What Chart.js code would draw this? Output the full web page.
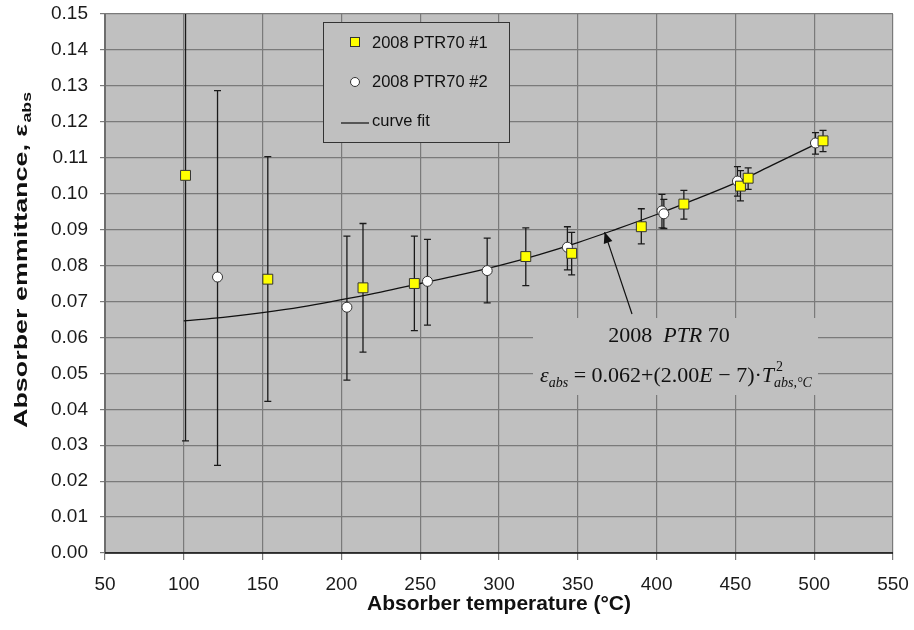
<!DOCTYPE html>
<html>
<head>
<meta charset="utf-8">
<script src="https://cdn.jsdelivr.net/npm/chart.js@4/dist/chart.umd.min.js"></script>
<style>
html,body{margin:0;padding:0;background:#fff;}
#wrap{width:914px;height:630px;}
</style>
</head>
<body>
<div id="wrap"><canvas id="c" width="914" height="630"></canvas></div>
<script>
// ---- Data ----
const xTicks = [50,100,150,200,250,300,350,400,450,500,550];
const yTicks = [0,0.01,0.02,0.03,0.04,0.05,0.06,0.07,0.08,0.09,0.10,0.11,0.12,0.13,0.14,0.15];

const s1Label = "2008 PTR70 #1";
const s1Temp = [101.1, 153.3, 213.7, 246.3, 317.0, 346.1, 390.3, 417.3, 453.2, 458.1, 505.6];
const s1Emit = [0.1051, 0.0762, 0.0738, 0.0750, 0.0825, 0.0834, 0.0908, 0.0971, 0.1021, 0.1043, 0.1147];
const s1Low  = [0.0312, 0.0422, 0.0559, 0.0619, 0.0744, 0.0774, 0.0860, 0.0929, 0.0980, 0.1012, 0.1117];
const s1High = [0.1790, 0.1103, 0.0917, 0.0882, 0.0905, 0.0892, 0.0958, 0.1009, 0.1064, 0.1072, 0.1176];

const s2Label = "2008 PTR70 #2";
const s2Temp = [121.4, 203.5, 254.6, 292.5, 343.4, 403.4, 404.6, 451.3, 500.8];
const s2Emit = [0.0768, 0.0684, 0.0756, 0.0786, 0.0851, 0.0952, 0.0944, 0.1035, 0.1141];
const s2Low  = [0.0244, 0.0481, 0.0634, 0.0696, 0.0788, 0.0905, 0.0903, 0.0993, 0.1110];
const s2High = [0.1287, 0.0882, 0.0873, 0.0876, 0.0908, 0.0998, 0.0984, 0.1075, 0.1170];

const fitLabel = "curve fit";
const fitTemp = [100, 125, 150, 175, 200, 225, 250, 275, 300, 325, 350, 375, 400, 425, 450, 475, 502];
const fitEmit = [0.0646, 0.0656, 0.0669, 0.0685, 0.0705, 0.0726, 0.0750, 0.0774, 0.0800, 0.0830, 0.0864, 0.0902, 0.0942, 0.0985, 0.1030, 0.1083, 0.1140];

const xTitle = "Absorber temperature (°C)";
const yTitleMain = "Absorber emmittance, ε";
const yTitleSub = "abs";
const annoLine1 = ["2008  ", "PTR", " 70"];
const annoPointT = 367;
const annoPointE = 0.0893;

// ---- Helpers ----
const toXY = (xs, ys) => xs.map((x, i) => ({x: x, y: ys[i]}));
const PLOT_BG = '#c0c0c0';
const SANS = '"Liberation Sans", Arial, sans-serif';

const bgPlugin = {
  id: 'plotBg',
  beforeDraw(chart) {
    const {ctx, chartArea: a} = chart;
    ctx.save();
    ctx.fillStyle = PLOT_BG;
    ctx.fillRect(a.left, a.top, a.right - a.left, a.bottom - a.top);
    ctx.restore();
  }
};

const errPlugin = {
  id: 'errBars',
  beforeDatasetsDraw(chart) {
    const {ctx, chartArea: a, scales: {x, y}} = chart;
    ctx.save();
    ctx.fillStyle = PLOT_BG;
    ctx.fillRect(533, 318, 285, 77);
    ctx.restore();

    ctx.save();
    ctx.beginPath();
    ctx.rect(a.left, a.top, a.right - a.left, a.bottom - a.top);
    ctx.clip();
    ctx.strokeStyle = '#1a1a1a';
    ctx.lineWidth = 1.3;
    const draw = (ts, lo, hi) => {
      ts.forEach((t, i) => {
        const px = x.getPixelForValue(t);
        const p1 = y.getPixelForValue(lo[i]);
        const p2 = y.getPixelForValue(hi[i]);
        ctx.beginPath();
        ctx.moveTo(px, p1); ctx.lineTo(px, p2);
        ctx.moveTo(px - 3.5, p1); ctx.lineTo(px + 3.5, p1);
        ctx.moveTo(px - 3.5, p2); ctx.lineTo(px + 3.5, p2);
        ctx.stroke();
      });
    };
    draw(s1Temp, s1Low, s1High);
    draw(s2Temp, s2Low, s2High);
    ctx.restore();
  }
};

const overlayPlugin = {
  id: 'overlay',
  afterDraw(chart) {
    const {ctx, chartArea: a, scales: {x, y}} = chart;
    ctx.save();
    ctx.strokeStyle = '#6e6e6e';
    ctx.lineWidth = 2;
    ctx.beginPath(); ctx.moveTo(a.left, a.top); ctx.lineTo(a.left, a.bottom); ctx.stroke();
    ctx.strokeStyle = '#111';
    ctx.lineWidth = 1.5;
    ctx.beginPath(); ctx.moveTo(a.left, a.bottom); ctx.lineTo(a.right, a.bottom); ctx.stroke();

    // Legend box
    const lx = 323, ly = 22, lw = 186, lh = 120;
    ctx.fillStyle = PLOT_BG;
    ctx.fillRect(lx, ly, lw, lh);
    ctx.strokeStyle = '#333';
    ctx.lineWidth = 1;
    ctx.strokeRect(lx + 0.5, ly + 0.5, lw, lh);
    ctx.font = '16.5px ' + SANS;
    ctx.textBaseline = 'middle';
    ctx.textAlign = 'left';
    ctx.fillStyle = '#ffff00';
    ctx.fillRect(351, 38, 8, 8);
    ctx.strokeStyle = '#333';
    ctx.strokeRect(350.5, 37.5, 9, 9);
    ctx.fillStyle = '#111';
    ctx.fillText(s1Label, 372, 43);
    ctx.beginPath();
    ctx.arc(355, 82, 4.5, 0, Math.PI * 2);
    ctx.fillStyle = '#fff'; ctx.fill();
    ctx.strokeStyle = '#333'; ctx.stroke();
    ctx.fillStyle = '#111';
    ctx.fillText(s2Label, 372, 82);
    ctx.strokeStyle = '#333'; ctx.lineWidth = 1.5;
    ctx.beginPath(); ctx.moveTo(341, 123); ctx.lineTo(369, 123); ctx.stroke();
    ctx.fillText(fitLabel, 372, 121);

    // Annotation text
    ctx.fillStyle = '#111';
    ctx.textBaseline = 'alphabetic';
    const serif = '"Liberation Serif", "Times New Roman", serif';
    const big = 22, small = 14;
    const parts1 = [
      {t: annoLine1[0], f: big + 'px ' + serif},
      {t: annoLine1[1], f: 'italic ' + big + 'px ' + serif},
      {t: annoLine1[2], f: big + 'px ' + serif}
    ];
    let w = 0;
    parts1.forEach(p => { ctx.font = p.f; p.w = ctx.measureText(p.t).width; w += p.w; });
    let cx = 669 - w / 2;
    parts1.forEach(p => { ctx.font = p.f; ctx.fillText(p.t, cx, 342); cx += p.w; });
    const parts2 = [
      {t: 'ε', f: 'italic ' + big + 'px ' + serif, dy: 0},
      {t: 'abs', f: 'italic ' + small + 'px ' + serif, dy: 5},
      {t: ' = 0.062+(2.00', f: big + 'px ' + serif, dy: 0},
      {t: 'E', f: 'italic ' + big + 'px ' + serif, dy: 0},
      {t: ' − 7)·', f: big + 'px ' + serif, dy: 0},
      {t: 'T', f: 'italic ' + big + 'px ' + serif, dy: 0},
      {t: '2', f: small + 'px ' + serif, dy: -11, stack: true, dx: 2},
      {t: 'abs,°C', f: 'italic ' + small + 'px ' + serif, dy: 5}
    ];
    w = 0;
    parts2.forEach(p => {
      ctx.font = p.f; p.w = ctx.measureText(p.t).width;
      if (!p.stack) w += p.w;
    });
    cx = 676 - w / 2;
    parts2.forEach(p => {
      ctx.font = p.f;
      ctx.fillText(p.t, cx + (p.dx || 0), 382 + p.dy);
      if (!p.stack) cx += p.w;
    });

    // Arrow
    const tx = x.getPixelForValue(annoPointT);
    const ty = y.getPixelForValue(annoPointE);
    const sx = 632, sy = 314;
    ctx.strokeStyle = '#111'; ctx.lineWidth = 1.2;
    ctx.beginPath(); ctx.moveTo(sx, sy); ctx.lineTo(tx, ty); ctx.stroke();
    const ang = Math.atan2(ty - sy, tx - sx);
    const L = 11, W = 4.5;
    ctx.beginPath();
    ctx.moveTo(tx, ty);
    ctx.lineTo(tx - L * Math.cos(ang) + W * Math.sin(ang), ty - L * Math.sin(ang) - W * Math.cos(ang));
    ctx.lineTo(tx - L * Math.cos(ang) - W * Math.sin(ang), ty - L * Math.sin(ang) + W * Math.cos(ang));
    ctx.closePath();
    ctx.fillStyle = '#111'; ctx.fill();

    // Y axis title with subscript (stretched to the reference's length)
    ctx.save();
    ctx.translate(22, 260);
    ctx.rotate(-Math.PI / 2);
    const bf = 'bold 19px ' + SANS;
    const sf = 'bold 12.5px ' + SANS;
    ctx.font = bf; const w1 = ctx.measureText(yTitleMain).width;
    ctx.font = sf; const w2 = ctx.measureText(yTitleSub).width;
    const k = 336 / (w1 + w2 + 1);
    ctx.scale(k, 1);
    let sx0 = -(w1 + w2 + 1) / 2;
    ctx.font = bf; ctx.fillStyle = '#111'; ctx.textBaseline = 'middle'; ctx.textAlign = 'left';
    ctx.fillText(yTitleMain, sx0, 0);
    ctx.font = sf; ctx.fillText(yTitleSub, sx0 + w1 + 1, 6);
    ctx.restore();

    ctx.restore();
  }
};

const ctx = document.getElementById('c').getContext('2d');
new Chart(ctx, {
  type: 'scatter',
  data: {
    datasets: [
      {
        label: fitLabel, type: 'line', data: toXY(fitTemp, fitEmit),
        borderColor: '#111', borderWidth: 1.3, pointRadius: 0, tension: 0.4,
        fill: false, order: 3
      },
      {
        label: s2Label, data: toXY(s2Temp, s2Emit),
        pointStyle: 'circle', pointRadius: 5, pointBackgroundColor: '#ffffff',
        pointBorderColor: '#333', pointBorderWidth: 1, showLine: false, order: 2
      },
      {
        label: s1Label, data: toXY(s1Temp, s1Emit),
        pointStyle: 'rect', pointRadius: 7, pointBackgroundColor: '#ffff00',
        pointBorderColor: '#333', pointBorderWidth: 1, showLine: false, order: 1
      }
    ]
  },
  options: {
    responsive: false,
    animation: false,
    devicePixelRatio: 1,
    layout: {padding: {top: 14, right: 21, left: 0, bottom: 0}},
    plugins: {
      legend: {display: false},
      tooltip: {enabled: false},
      title: {display: false}
    },
    scales: {
      x: {
        type: 'linear', min: 50, max: 550,
        afterBuildTicks: s => { s.ticks = xTicks.map(v => ({value: v})); },
        afterFit: s => { s.height = 630 - 553; s.paddingLeft = 0; s.paddingRight = 0; },
        grid: {color: '#7a7a7a', lineWidth: 1.2, tickLength: 7, drawTicks: true},
        border: {display: false},
        ticks: {
          color: '#1a1a1a', padding: 13,
          font: {family: SANS, size: 19},
          maxRotation: 0, autoSkip: false
        },
        title: {
          display: true, text: xTitle, color: '#111', padding: {top: 0, bottom: 13},
          font: {family: SANS, size: 21, weight: 'bold'}
        }
      },
      y: {
        type: 'linear', min: 0, max: 0.15,
        afterBuildTicks: s => { s.ticks = yTicks.map(v => ({value: v})); },
        afterFit: s => { s.width = 105; s.paddingTop = 0; s.paddingBottom = 0; },
        grid: {color: '#7a7a7a', lineWidth: 1.2, tickLength: 5, drawTicks: true},
        border: {display: false},
        ticks: {
          color: '#1a1a1a', padding: 12,
          callback: v => Number(v).toFixed(2),
          font: {family: SANS, size: 19}
        }
      }
    }
  },
  plugins: [bgPlugin, errPlugin, overlayPlugin]
});
</script>
</body>
</html>
